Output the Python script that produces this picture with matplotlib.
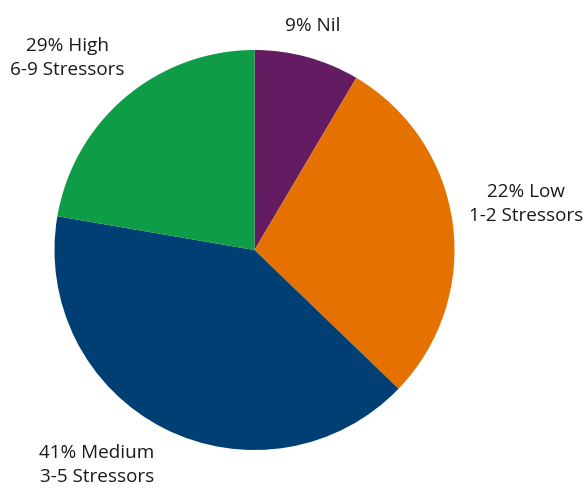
import matplotlib.pyplot as plt

plt.rcParams["font.family"] = ["Open Sans", "DejaVu Sans"]

# slice sizes as drawn (clockwise from 12 o'clock)
categories = ["Nil", "Low", "Medium", "High"]
slice_sizes = [8.5, 28.7, 40.5, 22.3]
# percentages printed on the labels
label_pcts = [9, 22, 41, 29]
stressors = ["", "1-2 Stressors", "3-5 Stressors", "6-9 Stressors"]
colors = ["#631B61", "#E57200", "#003F73", "#0E9C47"]

W, H = 584, 488
fig = plt.figure(figsize=(W / 100, H / 100), dpi=100)
ax = fig.add_axes([0, 0, 1, 1])

ax.pie(
    slice_sizes,
    colors=colors,
    startangle=90,
    counterclock=False,
    center=(254.5, H - 250),
    radius=200,
    wedgeprops=dict(linewidth=0),
)
ax.set_xlim(0, W)
ax.set_ylim(0, H)
ax.set_aspect("equal")
ax.axis("off")

label_pos = [(312.5, H - 26), (526, H - 204), (97, H - 465), (67.5, H - 58)]
for cat, pct, sub, (x, y) in zip(categories, label_pcts, stressors, label_pos):
    txt = f"{pct}% {cat}"
    if sub:
        txt += "\n" + sub
    ax.text(x, y, txt, ha="center", va="center", fontsize=13.6,
            color="#1a1a1a", linespacing=1.42)

fig.savefig("out.png", dpi=100)
